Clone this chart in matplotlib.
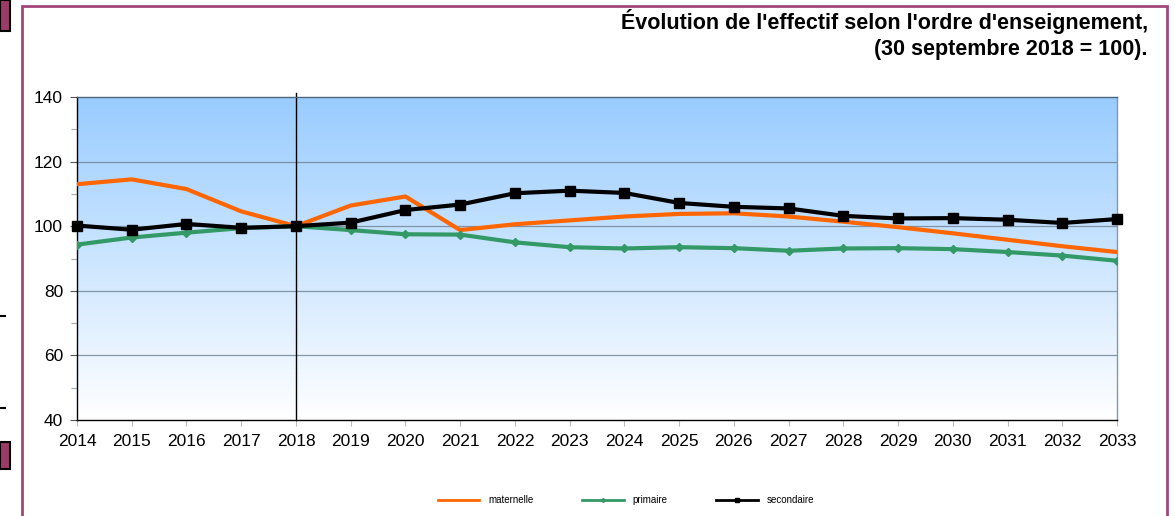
import numpy as np
import matplotlib
matplotlib.use("Agg")
import matplotlib.pyplot as plt
from matplotlib.patches import Rectangle
from matplotlib.lines import Line2D

plt.rcParams['font.family'] = ['Liberation Sans', 'DejaVu Sans']

# données (base 100 = 30 septembre 2018)
annees = list(range(2014, 2034))
maternelle = [113.0, 114.5, 111.5, 104.6, 100.0, 106.4, 109.2, 98.8, 100.6, 101.8,
              103.0, 103.8, 104.0, 103.0, 101.4, 99.7, 97.8, 95.8, 93.8, 92.0]
primaire = [94.3, 96.5, 98.0, 99.4, 100.0, 98.8, 97.5, 97.4, 95.0, 93.5,
            93.1, 93.5, 93.2, 92.4, 93.1, 93.2, 92.9, 92.0, 90.9, 89.3]
secondaire = [100.2, 98.9, 100.7, 99.5, 100.0, 101.1, 105.0, 106.7, 110.2, 111.0,
              110.3, 107.2, 106.0, 105.5, 103.2, 102.4, 102.5, 102.0, 101.0, 102.2]
yticks = [40, 60, 80, 100, 120, 140]

fig = plt.figure(figsize=(11.75, 5.16), dpi=100)

# cadre extérieur et marques de bord
fig.patches.append(Rectangle((22 / 1175, -0.05), (1167 - 22) / 1175, (516 - 6) / 516 + 0.05,
                             transform=fig.transFigure, fill=False,
                             edgecolor='#a3477a', linewidth=2))
fig.patches.append(Rectangle((0, 1 - 31 / 516), 10 / 1175, 31 / 516, transform=fig.transFigure,
                             facecolor='#9c3a68', edgecolor='black', linewidth=1.5))
fig.patches.append(Rectangle((0, 1 - 469 / 516), 10 / 1175, 27 / 516, transform=fig.transFigure,
                             facecolor='#9c3a68', edgecolor='black', linewidth=1.5))
for yy in [316, 408]:
    fig.lines.append(Line2D([0, 5 / 1175], [1 - yy / 516] * 2, transform=fig.transFigure,
                            color='black', linewidth=1.5))

ax = fig.add_axes([77 / 1175, 1 - 420 / 516, (1117 - 77) / 1175, (420 - 97) / 516])

# fond en dégradé bleu -> blanc
top = np.array([0.60, 0.80, 1.0])
bot = np.array([1.0, 1.0, 1.0])
t = np.linspace(0, 1, 256)[:, None]
grad = (top * (1 - t) + bot * t)[:, None, :]
ax.imshow(grad, extent=[2014, 2033, 40, 140], aspect='auto', zorder=0, interpolation='bilinear')

for y in [60, 80, 100, 120]:
    ax.axhline(y, color='#6f7f90', linewidth=0.9, alpha=0.8, zorder=1)

ax.axvline(2018, ymin=0, ymax=1.013, color='black', linewidth=1, clip_on=False, zorder=2)

ax.plot(annees, maternelle, color='#ff6600', linewidth=3, zorder=3, label='maternelle')
ax.plot(annees, primaire, color='#339966', linewidth=3, marker='D', markersize=4,
        zorder=3, label='primaire')
ax.plot(annees, secondaire, color='black', linewidth=3, marker='s', markersize=6.5,
        zorder=4, label='secondaire', clip_on=False)

ax.set_xlim(2014, 2033)
ax.set_ylim(40, 140)
ax.set_xticks(annees)
ax.set_yticks(yticks)
ax.set_yticks([50, 70, 90, 110, 130], minor=True)
ax.tick_params(axis='y', which='major', length=5, width=0.8, color='#555555',
               labelsize=12.5, pad=5)
ax.tick_params(axis='y', which='minor', length=4, width=0.8, color='#aaaaaa')
ax.tick_params(axis='x', length=4, width=0.8, color='#bbbbbb', labelsize=12.5, pad=6)

ax.spines['left'].set_color('black')
ax.spines['bottom'].set_color('black')
ax.spines['top'].set_color('#4d6680')
ax.spines['right'].set_color('#7f99b3')
for s in ax.spines.values():
    s.set_linewidth(1)

fig.text(1148 / 1175, 1 - 22 / 516, "Évolution de l'effectif selon l'ordre d'enseignement,",
         ha='right', va='center', fontsize=15.5, fontweight='bold')
fig.text(1148 / 1175, 1 - 50 / 516, "(30 septembre 2018 = 100).",
         ha='right', va='center', fontsize=15.5, fontweight='bold')

leg = fig.legend(loc='center', bbox_to_anchor=(626 / 1175, 1 - 500 / 516), ncol=3,
                 frameon=False, fontsize=7, handlelength=4.3, columnspacing=5.0,
                 handletextpad=0.9, markerscale=0.5)
for h in leg.legend_handles:
    h.set_linewidth(2)

fig.savefig('out.png', dpi=100)
